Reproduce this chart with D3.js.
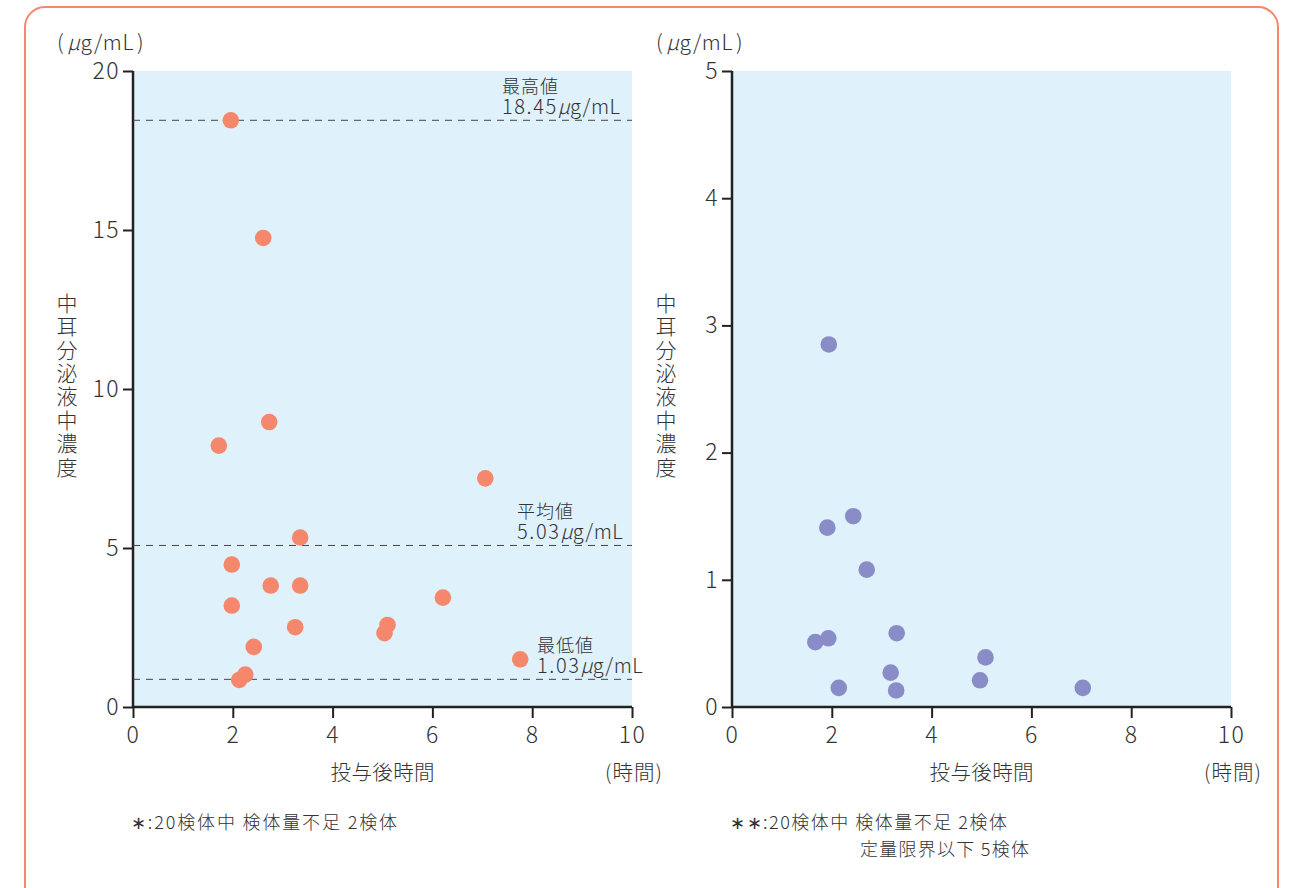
<!DOCTYPE html>
<html><head><meta charset="utf-8">
<script src="https://cdn.jsdelivr.net/npm/d3@7"></script>
<style>
html,body{margin:0;padding:0;background:#fff;}
svg text{font-family:"Noto Sans CJK JP","Noto Sans",sans-serif;fill:#333;}
</style></head>
<body><svg id="c" width="1290" height="888"></svg>
<script>
// ---- data ----
const leftX = [1.96,2.61,2.73,1.72,7.06,3.35,1.98,2.76,3.35,1.98,6.21,3.25,5.10,5.04,2.42,7.76,2.25,2.13];
const leftY = [18.45,14.75,8.96,8.22,7.19,5.33,4.48,3.82,3.82,3.19,3.44,2.51,2.58,2.32,1.89,1.50,1.02,0.85];
const rightX = [1.94,1.91,2.43,2.70,1.67,1.93,3.30,3.18,2.14,3.29,5.08,4.97,7.03];
const rightY = [2.85,1.41,1.50,1.08,0.51,0.54,0.58,0.27,0.15,0.13,0.39,0.21,0.15];
const xTicks = [0,2,4,6,8,10];
const leftYTicks = [0,5,10,15,20];
const rightYTicks = [0,1,2,3,4,5];
const refLineValues = [18.45,5.08,0.87];
const refTitles = ["最高値","平均値","最低値"];
const refNums = ["18.45","5.03","1.03"];
const yTitle = "中耳分泌液中濃度";
const xTitle = "投与後時間";
const xUnit = "(時間)";
const noteLeft = ["∗:20検体中 検体量不足 2検体"];
const noteRight = ["∗∗:20検体中 検体量不足 2検体","定量限界以下 5検体"];

const svg = d3.select("#c");
const ink = "#333";

// frame
svg.append("rect").attr("x",25).attr("y",7).attr("width",1253).attr("height",920)
  .attr("rx",20).attr("fill","none").attr("stroke","#f4876c").attr("stroke-width",2);

function panel(opt){
  const g = svg.append("g");
  const x = d3.scaleLinear().domain([0,10]).range([opt.x0,opt.x0+499]);
  const y = d3.scaleLinear().domain([0,opt.ymax]).range([707,71]);
  g.append("rect").attr("x",x(0)).attr("y",y(opt.ymax)).attr("width",x(10)-x(0)).attr("height",y(0)-y(opt.ymax)).attr("fill","#dff1fb");
  const ya = g.append("g").attr("transform",`translate(${x(0)},0)`)
    .call(d3.axisLeft(y).tickValues(opt.yTicks).tickFormat(d3.format("d")).tickSize(10).tickPadding(5));
  const xa = g.append("g").attr("transform",`translate(0,${y(0)})`)
    .call(d3.axisBottom(x).tickValues(xTicks).tickFormat(d3.format("d")).tickSize(11).tickPadding(9));
  [ya,xa].forEach(a=>{
    a.select(".domain").attr("stroke","#222").attr("stroke-width",2.5);
    a.selectAll(".tick line").attr("stroke","#222").attr("stroke-width",2);
    a.selectAll("text").attr("font-size",23).attr("fill",ink)
      .style("font-family","'Noto Sans CJK JP'").style("font-weight",300).style("letter-spacing","1.5px");
  });
  ya.selectAll("text").attr("dx",2);
  ya.select(".domain").attr("d",`M-0,${y(opt.ymax)}V${y(0)}`);
  xa.select(".domain").attr("d",`M${x(0)},0H${x(10)}`);
  // unit label
  const u = g.append("text").attr("x",x(0)-76).attr("y",50).attr("font-size",21).attr("font-weight",300)
    .style("letter-spacing","0.6px");
  u.append("tspan").text("(");
  u.append("tspan").attr("dx",3).attr("font-style","italic").text("μ");
  u.append("tspan").text("g/mL");
  u.append("tspan").attr("dx",3).text(")");
  // y title, vertical writing
  g.append("text").attr("x",x(0)-66).attr("y",386).attr("text-anchor","middle")
    .attr("font-size",21).attr("font-weight",300)
    .style("writing-mode","vertical-rl").style("letter-spacing","2.4px").text(yTitle);
  // x titles
  g.append("text").attr("x",x(5)).attr("y",780).attr("text-anchor","middle").attr("font-size",20.5).attr("font-weight",300)
    .attr("textLength",104).attr("lengthAdjust","spacing").text(xTitle);
  g.append("text").attr("x",x(10)+2).attr("y",780).attr("text-anchor","middle").attr("font-size",20.5).attr("font-weight",300)
    .style("letter-spacing","1px").text(xUnit);
  // notes
  opt.notes.forEach((t,i)=>{
    g.append("text").attr("x",i===0?x(0)-2:x(0)+128).attr("y",829+i*27).attr("font-size",18).attr("font-weight",300)
      .attr("textLength",opt.noteW[i]).attr("lengthAdjust","spacing").text(t);
  });
  return {g,x,y};
}

const L = panel({x0:133,ymax:20,yTicks:leftYTicks,notes:noteLeft,noteW:[266]});
const labelX = [502,517,537];
L.g.append("g").selectAll("line").data(refLineValues).join("line")
  .attr("x1",L.x(0)).attr("x2",L.x(10)).attr("y1",d=>L.y(d)).attr("y2",d=>L.y(d))
  .attr("stroke","#444").attr("stroke-width",1).attr("stroke-dasharray","7,6");
refLineValues.forEach((v,i)=>{
  const yy = L.y(v);
  const t = L.g.append("text").attr("font-weight",300);
  t.append("tspan").attr("x",labelX[i]).attr("y",yy-27).attr("font-size",18).style("letter-spacing","1px").text(refTitles[i]);
  t.append("tspan").attr("x",labelX[i]).attr("y",yy-6).attr("font-size",20).style("letter-spacing","1.6px").text(refNums[i]);
  t.append("tspan").attr("font-size",20).attr("font-style","italic").text("μ");
  t.append("tspan").attr("font-size",20).style("letter-spacing","0.5px").text("g/mL");
});
L.g.append("g").selectAll("circle").data(leftX.map((d,i)=>[d,leftY[i]])).join("circle")
  .attr("cx",d=>L.x(d[0])).attr("cy",d=>L.y(d[1])).attr("r",8.3).attr("fill","#f5876c");

const R = panel({x0:732,ymax:5,yTicks:rightYTicks,notes:noteRight,noteW:[277,169]});
R.g.append("g").selectAll("circle").data(rightX.map((d,i)=>[d,rightY[i]])).join("circle")
  .attr("cx",d=>R.x(d[0])).attr("cy",d=>R.y(d[1])).attr("r",8.3).attr("fill","#8a8cc8");
</script></body></html>
